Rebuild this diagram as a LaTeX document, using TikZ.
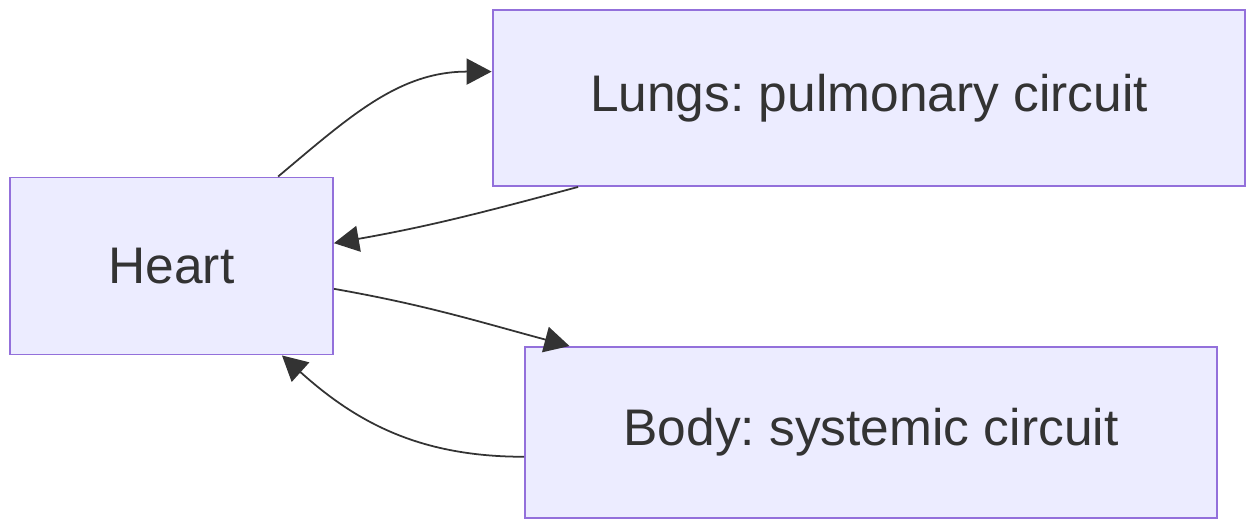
\documentclass[tikz,border=0pt]{standalone}
\usepackage{fontspec}
\setmainfont{Liberation Sans}
\usetikzlibrary{arrows.meta}
\definecolor{boxfill}{HTML}{ECECFF}
\definecolor{boxline}{HTML}{9370DB}
\definecolor{ink}{HTML}{333333}
\tikzset{
  organ/.style={draw=boxline,fill=boxfill,line width=1.1pt,text=ink,font=\fontsize{29.3}{35}\selectfont\frenchspacing,inner sep=0pt},
  flow/.style={draw=ink,line width=1pt,-{Triangle[length=0.5cm,width=0.52cm]}}
}
\begin{document}
\begin{tikzpicture}[x=0.02cm,y=-0.02cm]
\useasboundingbox (0,0) rectangle (1247,520);
\node[organ,minimum width=6.46cm,minimum height=3.54cm] (heart) at (171.5,266.0) {Heart};
\node[organ,minimum width=15.06cm,minimum height=3.52cm] (lungs) at (869.0,98.0) {Lungs: pulmonary circuit};
\node[organ,minimum width=13.84cm,minimum height=3.42cm] (body) at (871.0,432.5) {Body: systemic circuit};
\draw[flow] (heart.40) to[out=40,in=180] (lungs.176);
\draw[flow] (lungs.197) to[out=195,in=10] (heart.8);
\draw[flow] (heart.352) to[out=-10,in=165] (body.164);
\draw[flow] (body.184) to[out=180,in=-42] (heart.321);
\end{tikzpicture}
\end{document}
